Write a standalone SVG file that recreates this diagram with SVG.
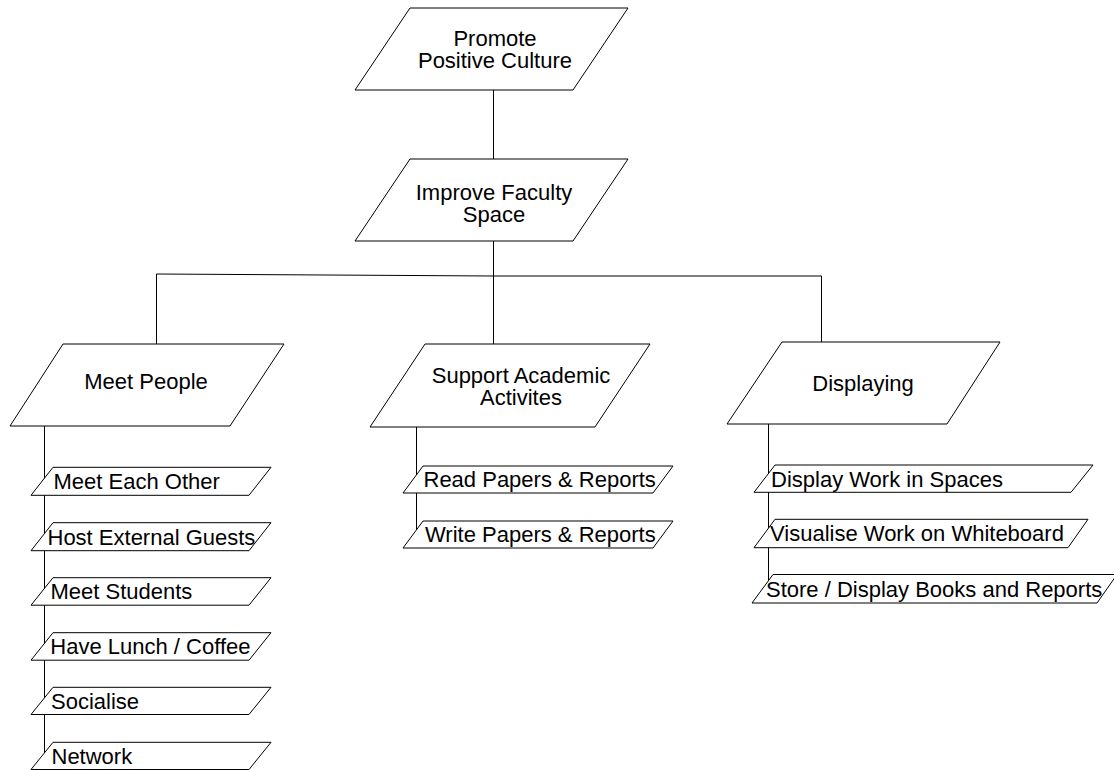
<svg xmlns="http://www.w3.org/2000/svg" width="1114" height="770" viewBox="0 0 1114 770">
<style>
.box{fill:#fff;stroke:#000;stroke-width:1}
.edge{fill:none;stroke:#000;stroke-width:1}
text{font-family:"Liberation Sans",Arial,sans-serif;font-size:22px;fill:#000}
.c{text-anchor:middle}
</style>
<rect width="1114" height="770" fill="#fff"/>
<g id="connectors">
<path class="edge" d="M493.5 90V159"/>
<path class="edge" d="M493.5 241V276L156.5 274V344"/>
<path class="edge" d="M493.5 276V344"/>
<path class="edge" d="M493.5 276H821.5V342"/>
<path class="edge" d="M44.5 426V753.5"/>
<path class="edge" d="M416.5 427V530.5"/>
<path class="edge" d="M768.5 424V581.7"/>
</g>
<g id="promote">
<polygon class="box" points="410,8 628,8 573,90 355,90"/>
<text class="c" x="495" y="45.7">Promote</text>
<text class="c" x="495" y="67.7">Positive Culture</text>
</g>
<g id="improve">
<polygon class="box" points="410,159 628,159 573,241 355,241"/>
<text class="c" x="494" y="199.8">Improve Faculty</text>
<text class="c" x="494" y="221.5">Space</text>
</g>
<g id="meet-people">
<polygon class="box" points="63,344 284,344 230,426 10,426"/>
<text class="c" x="146" y="388.5">Meet People</text>
</g>
<g id="support">
<polygon class="box" points="425,344 650,344 595,427 370,427"/>
<text class="c" x="521" y="383.3">Support Academic</text>
<text class="c" x="521" y="405">Activites</text>
</g>
<g id="displaying">
<polygon class="box" points="782,342 1000,342 947,424 727,424"/>
<text class="c" x="863" y="391">Displaying</text>
</g>
<g id="meet-each-other">
<polygon class="box" points="53,467.3 271,467.3 249,495.3 31,495.3"/>
<text x="53.5" y="489.2">Meet Each Other</text>
</g>
<g id="host-external-guests">
<polygon class="box" points="53,522.7 271,522.7 249,550.7 31,550.7"/>
<text x="47.5" y="544.6">Host External Guests</text>
</g>
<g id="meet-students">
<polygon class="box" points="53,577.7 271,577.7 249,605.2 31,605.2"/>
<text x="50.5" y="599.3">Meet Students</text>
</g>
<g id="have-lunch">
<polygon class="box" points="53,632.7 271,632.7 249,660.2 31,660.2"/>
<text x="50.3" y="654.3">Have Lunch / Coffee</text>
</g>
<g id="socialise">
<polygon class="box" points="53,687.3 271,687.3 249,714.5 31,714.5"/>
<text x="51" y="708.8">Socialise</text>
</g>
<g id="network">
<polygon class="box" points="53,742.3 271,742.3 249,769.5 31,769.5"/>
<text x="51.5" y="763.8">Network</text>
</g>
<g id="read-papers">
<polygon class="box" points="423,466 673,466 653,493 403,493"/>
<text x="423.5" y="487.4">Read Papers &amp; Reports</text>
</g>
<g id="write-papers">
<polygon class="box" points="423,521 673,521 653,548 403,548"/>
<text x="425" y="542.4">Write Papers &amp; Reports</text>
</g>
<g id="display-work">
<polygon class="box" points="775,465 1093,465 1071,492.3 754,492.3"/>
<text x="771" y="486.6">Display Work in Spaces</text>
</g>
<g id="visualise-work">
<polygon class="box" points="775,519.3 1088,519.3 1068,547.7 754,547.7"/>
<text x="770" y="541.4">Visualise Work on Whiteboard</text>
</g>
<g id="store-display">
<polygon class="box" points="773,574.5 1117,574.5 1097,603 752,603"/>
<text x="766" y="596.7">Store / Display Books and Reports</text>
</g>
</svg>
